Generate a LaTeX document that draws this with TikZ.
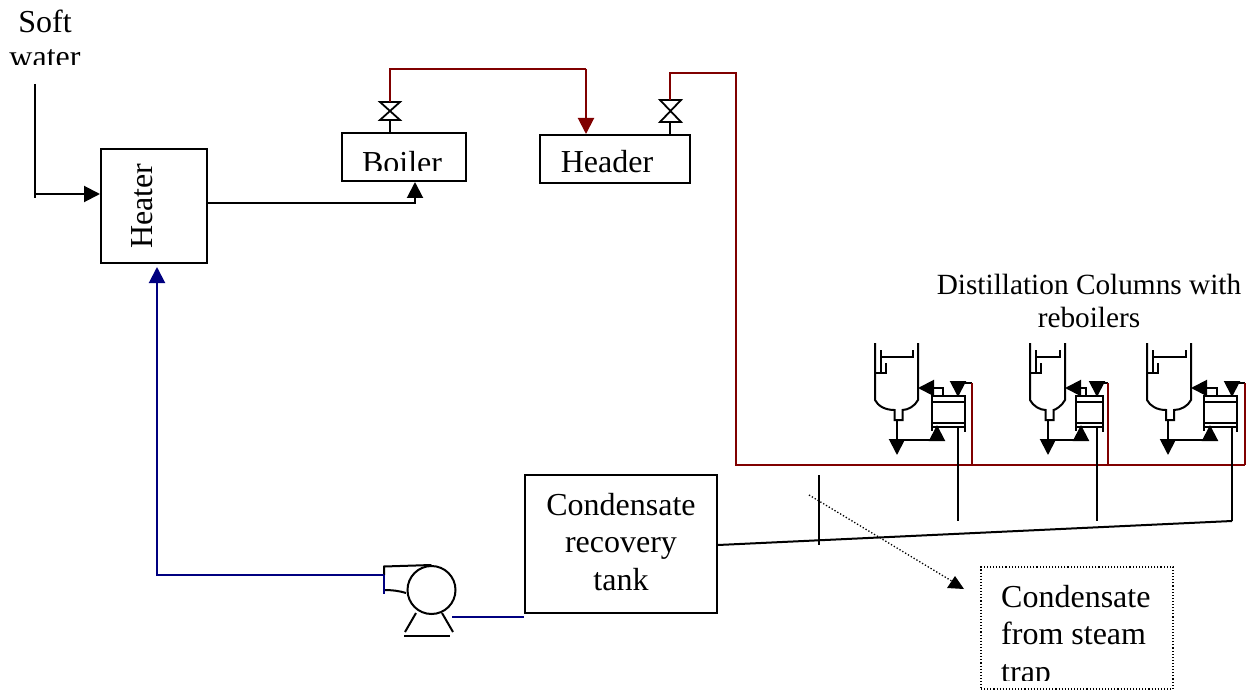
\documentclass[tikz,border=0pt]{standalone}
\usepackage{fontspec}
\setmainfont{Liberation Serif}
\usetikzlibrary{arrows.meta,calc}
\definecolor{steam}{HTML}{800000}
\definecolor{water}{HTML}{000080}
\tikzset{
  line/.style={line width=2pt,black,line join=miter},
  thick line/.style={line width=2.4pt,black},
  tip/.style={-{Triangle[length=16pt,width=16pt]}},
  steamline/.style={line width=2pt,steam},
  waterline/.style={line width=2pt,water},
  unit/.style={draw,line width=2pt,inner sep=0pt,fill=white},
  lab/.style={inner sep=0pt,anchor=base,font=\fontsize{32}{37}\selectfont,align=center},
  smalllab/.style={inner sep=0pt,anchor=base,font=\fontsize{29.3}{34}\selectfont},
  valvebody/.style={draw,line width=1.8pt,fill=white},
}
\begin{document}
\begin{tikzpicture}[x=1pt,y=-1pt]
\useasboundingbox (0,0) rectangle (1259,690);

% units
\node[unit,minimum width=106pt,minimum height=114pt] (heater) at (154,206) {};
\node[lab,anchor=center,rotate=90] (heatertxt) at (142,206) {Heater};
\node[unit,minimum width=124pt,minimum height=48pt] (boiler) at (404,157) {};
\node[unit,minimum width=150pt,minimum height=48pt] (header) at (615,159) {};
\node[unit,minimum width=192pt,minimum height=138pt] (tank) at (621,544) {};
\node[draw,dotted,line width=1.1pt,minimum width=192pt,minimum height=122pt,inner sep=0pt] (trapbox) at (1077,628) {};

% texts
\node[lab] (softtxt) at (45,33) {Soft};
\begin{scope}
  \clip (0,40) rectangle (120,65);
  \node[lab] (watertxt) at (45,68) {water};
\end{scope}
\begin{scope}
  \clip (345,140) rectangle (464,171);
  \node[lab] (boilertxt) at (402,174) {Boiler};
\end{scope}
\node[lab] (headertxt) at (607,173) {Header};
\node[lab] (t1) at (621,515) {Condensate};
\node[lab] (t2) at (621,552) {recovery};
\node[lab] (t3) at (621,590) {tank};
\node[lab,anchor=base west] (c1) at (1001,607) {Condensate};
\node[lab,anchor=base west] (c2) at (1001,644) {from steam};
\begin{scope}
  \clip (990,650) rectangle (1165,680);
  \node[lab,anchor=base west] (c3) at (1001,682) {trap};
\end{scope}
\node[smalllab] (d1) at (1089,294) {Distillation Columns with};
\node[smalllab] (d2) at (1089,327) {reboilers};

% soft water and heater out
\coordinate (softtop) at (35,84);
\coordinate (softbot) at (35,198);
\draw[line] (softtop) -- (softbot);
\draw[line,tip] (35,194) -- (heater.west |- 35,194);
\coordinate (hout) at (heater.east |- 0,203);
\draw[line,tip] (hout) -| (415,182);

% valves
\coordinate (v1) at (390,111);
\coordinate (v2) at (670,111);
\draw[line width=1.5pt] (boiler.north -| v1) -- (v1);
\draw[line width=1.5pt] (header.north -| v2) -- (v2);
\draw[valvebody] (380,102) -- (400,102) -- (380,120) -- (400,120) -- cycle;
\draw[valvebody] (660,100) -- (681,100) -- (660,122) -- (681,122) -- cycle;

% steam
\coordinate (s1) at (390,69);
\draw[steamline] (390,102) -- (s1) -- (586,69);
\draw[steamline,tip] (586,69) -- (header.north -| 586,0);
\coordinate (mainend) at (1245,465);
\draw[steamline] (670,100) -- (670,73) -- (736,73) -- (736,465) -- (mainend);

% columns
\foreach \cid/\vl/\vr/\vo/\rl/\rr/\ux/\tx/\hx/\rx/\ox in {
  a/875/918/898.5/932/965/937/943/958/972/897,
  b/1030/1065/1049.5/1076/1103/1081/1086/1097/1108/1048,
  c/1147/1191/1170/1204/1237/1210/1217/1232/1245/1168}{
  \coordinate (\cid out) at (\ox,420);
  \coordinate (\cid drop) at (\ox,455);
  \coordinate (\cid turn) at (\ox,440);
  \coordinate (\cid up) at (\ux,425);
  \coordinate (\cid ret) at (\tx,396);
  \coordinate (\cid in) at (\vr,388);
  \coordinate (\cid steam) at (\rx,383);
  \coordinate (\cid hot) at (\hx,397);
  \coordinate (\cid drain) at (\hx,427);
  \coordinate (\cid end) at (\hx,521);
  % vessel
  \draw[line] (\vl,343) -- (\vl,400) .. controls (\vl+3,406) and (\vl+10,410) .. (\vo-4,410)
     -- (\vo-4,420) -- (\vo+4,420) -- (\vo+4,410)
     .. controls (\vr-10,410) and (\vr-3,406) .. (\vr,400) -- (\vr,343);
  \draw[line] (\vl+6,350) -- (\vl+6,373);
  \draw[line] (\vl,373) -- (\vl+11,373) -- (\vl+11,363);
  \draw[line] (\vl+6,357) -- (\vr-5,357) -- (\vr-5,350);
  % reboiler
  \draw[line] (\rl,395) -- (\rl,431);
  \draw[line] (\rr,395) -- (\rr,432);
  \draw[line] (\rl,396) -- (\rr,396);
  \draw[line] (\rl,402) -- (\rr,402);
  \draw[line] (\rl,423) -- (\rr,423);
  \draw[line] (\rl,427) -- (\rr,427);
  % flows
  \draw[line,tip] (\cid out) -- (\cid drop);
  \draw[line,tip] (\cid turn) -- (\cid turn -| \cid up) -- (\cid up);
  \draw[line,tip] (\cid ret) -- (\cid ret |- \cid in) -- (\cid in);
  \draw[line,tip] (\cid steam) -- (\cid hot |- \cid steam) -- (\cid hot);
  \draw[steamline] (\rx,465) -- (\cid steam);
  \draw[thick line] (\cid drain) -- (\cid end);
}

% condensate return
\coordinate (tankin) at (tank.east |- 0,545);
\draw[line] (cend) -- (tankin);
\coordinate (ticktop) at (819,475);
\coordinate (tickbot) at (819,545);
\draw[line] (ticktop) -- (tickbot);

% dotted pointer
\coordinate (ptrstart) at (809,495);
\coordinate (ptrend) at (955,583);
\draw[line width=1.3pt,dotted] (ptrstart) -- (ptrend);
\fill (955,576) -- (947,588) -- (964,589) -- cycle;

% pump
\coordinate (pumpc) at (431.5,590);
\node[draw,circle,line width=2pt,minimum size=48pt,inner sep=0pt] (pump) at (pumpc) {};
\draw[line] (pump.north) -- (384,566.5) -- (384,575);
\draw[line] (384,590) .. controls (392,590) and (400,591) .. (406,593);
\draw[line] (416,613) -- (405,632);
\draw[line] (442,613) -- (453,632);
\draw[line] (404,636) -- (450,636);
\draw[waterline] (384,575) -- (384,594);
\coordinate (pumpout) at (452,617);
\draw[waterline] (pumpout) -- (tank.west |- pumpout);
\coordinate (pumpin) at (384,575);
\draw[waterline] (pumpin) -- (157,575) -- (157,282);
\draw[waterline,tip] (157,283) -- (157,267);
\end{tikzpicture}
\end{document}
